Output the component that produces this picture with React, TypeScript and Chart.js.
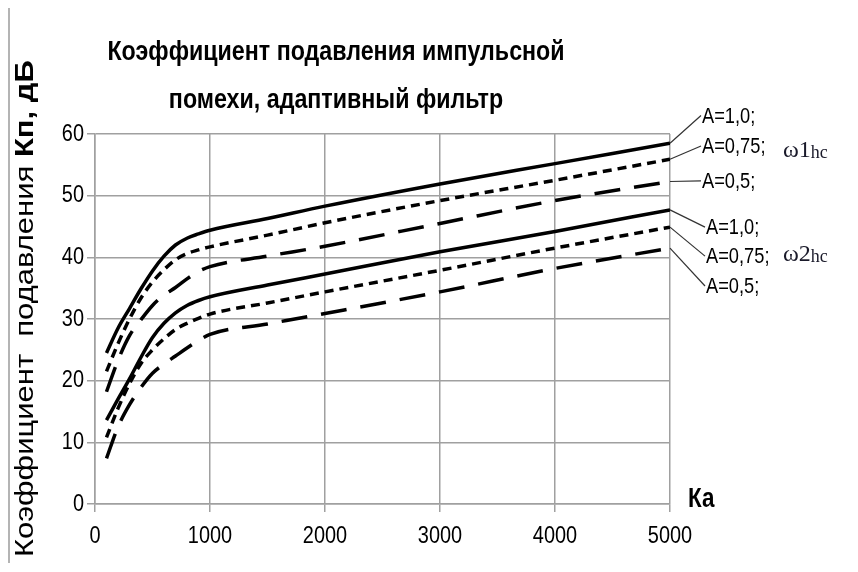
import React, { useEffect, useRef } from "react";
import { Chart, registerables } from "chart.js";

Chart.register(...registerables);

// ---- data ----
const X_VALUES = [100, 200, 300, 400, 500, 600, 700, 800, 900, 1000, 1500, 2000, 3000, 4000, 5000];
const W1_A100 = [24.5, 28.5, 31.7, 34.9, 37.8, 40.2, 42.0, 43.1, 43.8, 44.4, 46.3, 48.3, 51.9, 55.2, 58.5];
const W1_A075 = [21.5, 26.0, 30.0, 33.4, 36.0, 38.0, 39.6, 40.6, 41.2, 41.7, 43.6, 45.6, 49.2, 52.5, 55.9];
const W1_A050 = [18.2, 23.3, 27.3, 29.9, 32.2, 33.9, 35.1, 36.5, 37.7, 38.5, 40.2, 41.8, 45.5, 49.2, 52.3];
const W2_A100 = [13.6, 17.0, 20.3, 23.8, 27.0, 29.3, 31.0, 32.2, 33.0, 33.6, 35.5, 37.3, 40.9, 44.2, 47.7];
const W2_A075 = [10.8, 15.5, 19.5, 22.8, 25.0, 26.8, 28.3, 29.3, 30.1, 30.8, 32.6, 34.4, 37.9, 41.5, 44.9];
const W2_A050 = [7.4, 12.5, 16.1, 18.9, 21.2, 22.7, 24.0, 25.3, 26.5, 27.5, 29.2, 30.9, 34.4, 38.2, 41.5];

const SERIES_LABELS = ["A=1,0;", "A=0,75;", "A=0,5;", "A=1,0;", "A=0,75;", "A=0,5;"];
const GROUP_LABELS = ["ω1", "ω2"];
const GROUP_SUB = "hc";
const TITLE_LINES = ["Коэффициент подавления импульсной", "помехи, адаптивный фильтр"];
const Y_TITLE_REGULAR = "Коэффициент  подавления ";
const Y_TITLE_BOLD = "Кп, дБ";
const X_TITLE = "Ка";

// annotation anchor values (in y-axis units)
const LABEL_Y = [63.0, 58.05, 52.4, 44.9, 40.2, 35.35];
const GROUP_LABEL_Y = [56.3, 39.4];

const SANS = "'Liberation Sans', Arial, sans-serif";
const SERIF = "'Liberation Serif', 'Times New Roman', serif";
const SQUEEZE = 0.83; // narrow (Arial Narrow-like) text

const DOTTED = [9, 6];
const DASHED = [26, 14];

function mk(label: string, data: number[], dash: number[]) {
  return {
    label,
    data: X_VALUES.map((x, i) => ({ x, y: data[i] })),
    borderColor: "#000",
    backgroundColor: "#000",
    borderWidth: 3.5,
    borderDash: dash,
    pointRadius: 0,
    cubicInterpolationMode: "monotone" as const,
    fill: false,
  };
}

const annotPlugin = {
  id: "annot",
  beforeDraw(chart: any) {
    const ctx = chart.ctx;
    if (!ctx.__origFill) {
      const orig = ctx.fillText;
      ctx.__origFill = orig;
      ctx.fillText = function (t: string, x: number, y: number, mw?: number) {
        this.save();
        this.translate(x, y);
        this.scale(SQUEEZE, 1);
        if (mw === undefined || mw === null) orig.call(this, t, 0, 0);
        else orig.call(this, t, 0, 0, mw / SQUEEZE);
        this.restore();
      };
    }
  },
  afterDraw(chart: any) {
    const { ctx, scales } = chart;
    const xs = scales.x;
    const ys = scales.y;
    const origFill = ctx.__origFill;
    ctx.save();
    ctx.fillStyle = "#000";

    // title
    ctx.textAlign = "center";
    ctx.textBaseline = "middle";
    ctx.font = `bold 28px ${SANS}`;
    ctx.fillText(TITLE_LINES[0], 326, 45);
    ctx.fillText(TITLE_LINES[1], 326, 93);

    // y title (rotated)
    ctx.save();
    ctx.translate(16, 550);
    ctx.scale(SQUEEZE, 1);
    ctx.rotate(-Math.PI / 2);
    ctx.textAlign = "left";
    ctx.textBaseline = "middle";
    ctx.font = `31px ${SANS}`;
    origFill.call(ctx, Y_TITLE_REGULAR, 0, 0);
    const w = ctx.measureText(Y_TITLE_REGULAR).width;
    ctx.font = `bold 31px ${SANS}`;
    origFill.call(ctx, Y_TITLE_BOLD, w, 0);
    ctx.restore();

    // x title
    ctx.textAlign = "left";
    ctx.textBaseline = "middle";
    ctx.font = `bold 27px ${SANS}`;
    ctx.fillText(X_TITLE, xs.getPixelForValue(5000) + 18, ys.getPixelForValue(0) - 4);

    // leader lines + labels
    const ends = [W1_A100, W1_A075, W1_A050, W2_A100, W2_A075, W2_A050];
    const xEnd = xs.getPixelForValue(5000);
    ctx.font = `22px ${SANS}`;
    ctx.strokeStyle = "#333";
    ctx.lineWidth = 1.2;
    ends.forEach((arr, i) => {
      const y0 = ys.getPixelForValue(arr[arr.length - 1]);
      const ly = ys.getPixelForValue(LABEL_Y[i]);
      const lx = xEnd + (i < 3 ? 32 : 36);
      ctx.beginPath();
      ctx.moveTo(xEnd, y0);
      ctx.lineTo(lx - 1, ly);
      ctx.stroke();
      ctx.fillText(SERIES_LABELS[i], lx, ly + 1);
    });

    // group labels
    GROUP_LABELS.forEach((g, i) => {
      const gx = xEnd + 113;
      const gy = ys.getPixelForValue(GROUP_LABEL_Y[i]);
      ctx.textAlign = "left";
      ctx.textBaseline = "alphabetic";
      ctx.fillStyle = "#1a1a2a";
      ctx.font = `24px ${SERIF}`;
      origFill.call(ctx, g, gx, gy);
      const gw = ctx.measureText(g).width;
      ctx.font = `18px ${SERIF}`;
      origFill.call(ctx, GROUP_SUB, gx + gw, gy + 1);
    });
    ctx.restore();
  },
};

export default function App() {
  const ref = useRef<HTMLCanvasElement | null>(null);
  useEffect(() => {
    if (!ref.current) return;
    const gridColor = "#a0a0a0";
    const chart = new Chart(ref.current, {
      type: "line",
      data: {
        datasets: [
          mk("ω1 A=1,0", W1_A100, []),
          mk("ω1 A=0,75", W1_A075, DOTTED),
          mk("ω1 A=0,5", W1_A050, DASHED),
          mk("ω2 A=1,0", W2_A100, []),
          mk("ω2 A=0,75", W2_A075, DOTTED),
          mk("ω2 A=0,5", W2_A050, DASHED),
        ],
      },
      options: {
        responsive: false,
        animation: false,
        layout: { padding: { left: 0, right: 180, top: 127, bottom: 0 } },
        plugins: { legend: { display: false }, tooltip: { enabled: false }, title: { display: false } },
        scales: {
          x: {
            type: "linear",
            min: 0,
            max: 5000,
            ticks: {
              stepSize: 1000,
              color: "#000",
              padding: 10,
              font: { family: SANS, size: 24 },
              maxRotation: 0,
              callback: (v: any) => String(v),
            },
            grid: { color: gridColor, lineWidth: 1.5, tickLength: 8 },
            border: { color: gridColor, width: 1.5 },
            afterFit: (s: any) => { s.height = 59; },
          },
          y: {
            min: 0,
            max: 60,
            ticks: { stepSize: 10, color: "#000", padding: 3, font: { family: SANS, size: 24 } },
            grid: { color: gridColor, lineWidth: 1.5, tickLength: 8 },
            border: { color: gridColor, width: 1.5 },
            afterFit: (s: any) => { s.width = 85; },
          },
        },
      },
      plugins: [annotPlugin],
    });
    return () => chart.destroy();
  }, []);
  return (
    <div style={{ marginTop: -3, borderTop: "2px solid #b4b4b4", borderLeft: "2px solid #b4b4b4", width: 840, height: 556 }}>
      <canvas ref={ref} width={840} height={556} style={{ display: "block" }} />
    </div>
  );
}
